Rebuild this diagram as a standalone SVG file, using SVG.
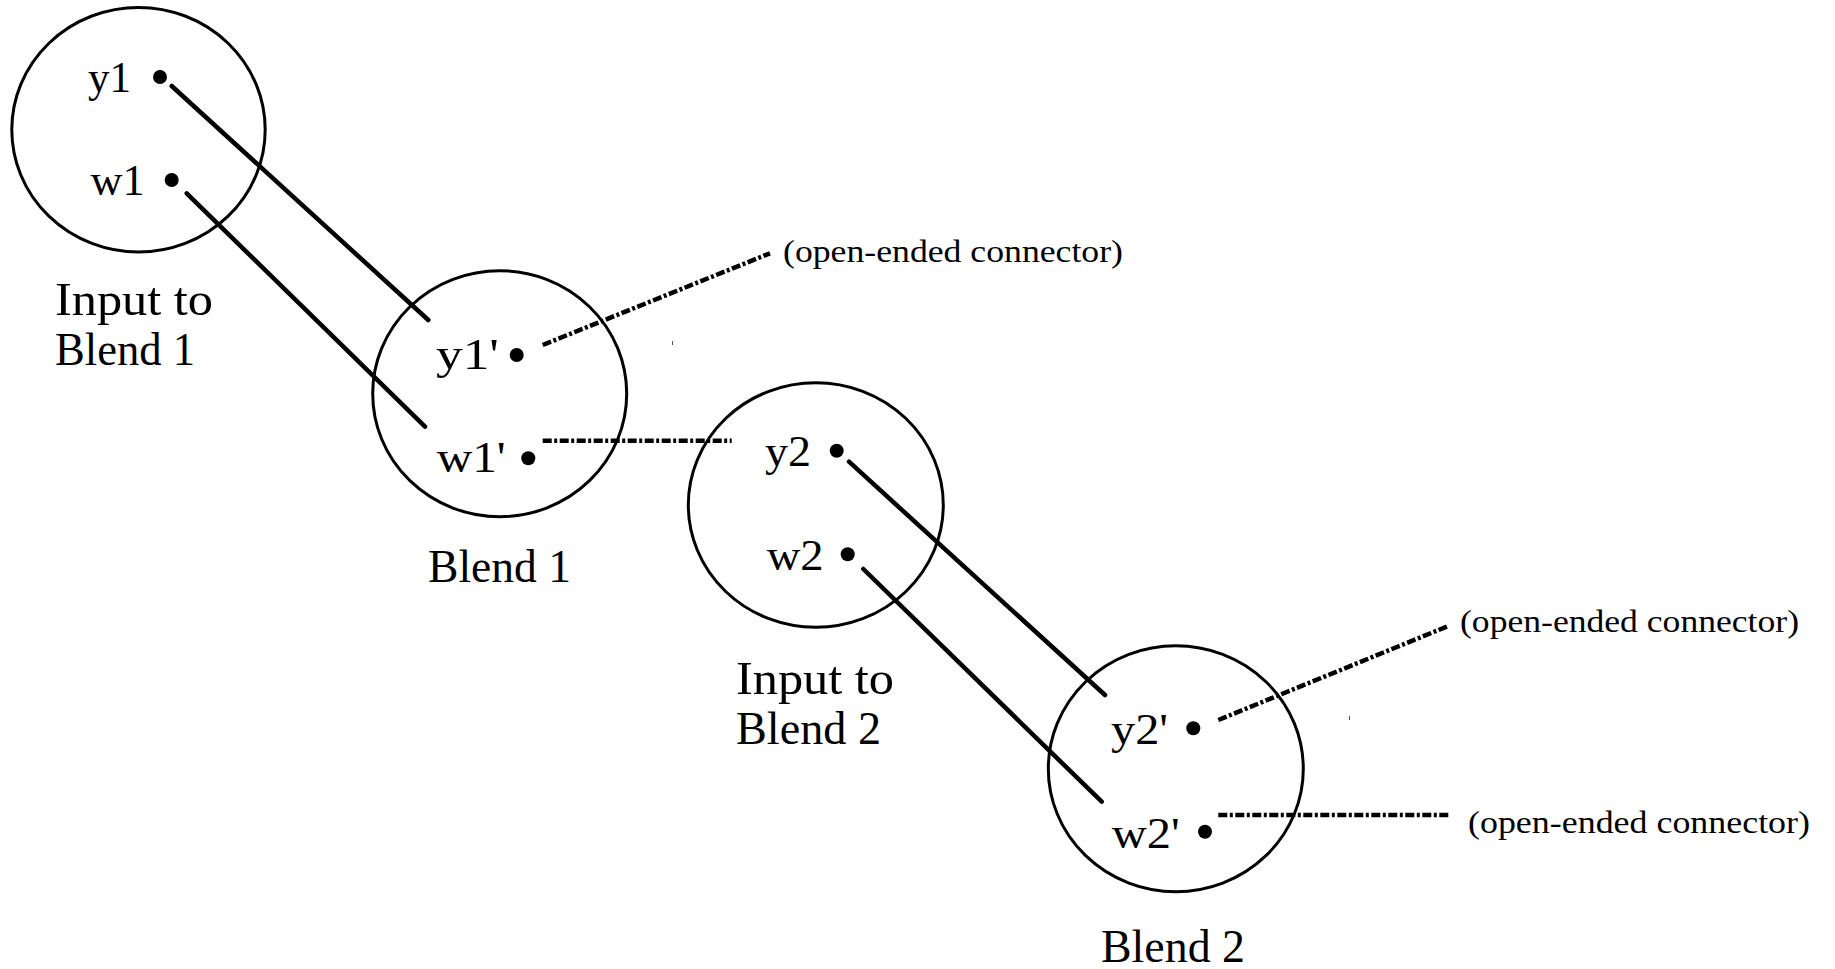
<svg xmlns="http://www.w3.org/2000/svg" width="1835" height="969" viewBox="0 0 1835 969">
<style>
.ring{fill:none;stroke:#000;stroke-width:3}
.dot{fill:#000}
.lbl{font-family:"Liberation Serif","Times New Roman",serif;font-size:44px;fill:#000}
.cap{font-family:"Liberation Serif","Times New Roman",serif;font-size:47px;fill:#000}
.note{font-family:"Liberation Serif","Times New Roman",serif;font-size:32px;fill:#000}
.link{stroke:#000;stroke-width:4.5;stroke-linecap:round;fill:none}
.open{stroke:#000;stroke-width:4.5;stroke-dasharray:9 2.5 3 2.5;fill:none}
.tick{stroke:#555;stroke-width:1}
</style>
<rect width="1835" height="969" fill="#fff"/>
<g id="input1">
  <ellipse class="ring" cx="138.5" cy="129.7" rx="126.7" ry="122.3"/>
  <circle class="dot" cx="160" cy="77" r="7"/>
  <circle class="dot" cx="171.7" cy="180" r="7"/>
  <text class="lbl" x="88" y="92" textLength="43" lengthAdjust="spacingAndGlyphs">y1</text>
  <text class="lbl" x="90.5" y="195" textLength="54" lengthAdjust="spacingAndGlyphs">w1</text>
  <text class="cap" x="55" y="315" textLength="158" lengthAdjust="spacingAndGlyphs">Input to</text>
  <text class="cap" x="55" y="365" textLength="140" lengthAdjust="spacingAndGlyphs">Blend 1</text>
</g>
<g id="blend1">
  <ellipse class="ring" cx="499.7" cy="393.7" rx="127" ry="123"/>
  <circle class="dot" cx="516.7" cy="355" r="7"/>
  <circle class="dot" cx="528.3" cy="458.3" r="7"/>
  <text class="lbl" x="436" y="369" textLength="63" lengthAdjust="spacingAndGlyphs">y1'</text>
  <text class="lbl" x="436.7" y="472" textLength="69" lengthAdjust="spacingAndGlyphs">w1'</text>
  <text class="cap" x="428" y="582" textLength="143" lengthAdjust="spacingAndGlyphs">Blend 1</text>
</g>
<g id="input2">
  <ellipse class="ring" cx="815.8" cy="505" rx="127.5" ry="122.3"/>
  <circle class="dot" cx="836.7" cy="450.7" r="7"/>
  <circle class="dot" cx="847.7" cy="554.3" r="7"/>
  <text class="lbl" x="765" y="466" textLength="46" lengthAdjust="spacingAndGlyphs">y2</text>
  <text class="lbl" x="766.7" y="570" textLength="57" lengthAdjust="spacingAndGlyphs">w2</text>
  <text class="cap" x="736" y="694" textLength="158" lengthAdjust="spacingAndGlyphs">Input to</text>
  <text class="cap" x="736" y="744" textLength="145" lengthAdjust="spacingAndGlyphs">Blend 2</text>
</g>
<g id="blend2">
  <ellipse class="ring" cx="1175.8" cy="768.7" rx="127.5" ry="123"/>
  <circle class="dot" cx="1193.3" cy="728.3" r="7"/>
  <circle class="dot" cx="1205" cy="831.7" r="7"/>
  <text class="lbl" x="1111" y="744" textLength="57" lengthAdjust="spacingAndGlyphs">y2'</text>
  <text class="lbl" x="1111.7" y="847.5" textLength="68" lengthAdjust="spacingAndGlyphs">w2'</text>
  <text class="cap" x="1101" y="962" textLength="144" lengthAdjust="spacingAndGlyphs">Blend 2</text>
</g>
<g id="notes">
  <text class="note" x="783" y="262" textLength="340" lengthAdjust="spacingAndGlyphs">(open-ended connector)</text>
  <text class="note" x="1460" y="632" textLength="339" lengthAdjust="spacingAndGlyphs">(open-ended connector)</text>
  <text class="note" x="1468" y="833" textLength="342" lengthAdjust="spacingAndGlyphs">(open-ended connector)</text>
</g>
<g id="connectors">
  <line class="link" x1="171.7" y1="86" x2="428.3" y2="320"/>
  <line class="link" x1="186.7" y1="193.3" x2="425" y2="426.7"/>
  <line class="link" x1="849" y1="461.7" x2="1105" y2="695"/>
  <line class="link" x1="863.3" y1="569" x2="1101.7" y2="801.7"/>
  <line class="open" x1="542.7" y1="345" x2="770" y2="253.3"/>
  <line class="open" x1="542.7" y1="440.7" x2="731.7" y2="440.7"/>
  <line class="open" x1="1218.3" y1="720" x2="1448.3" y2="626"/>
  <line class="open" x1="1218.3" y1="815" x2="1448.3" y2="815"/>
  <line class="tick" x1="672.5" y1="341" x2="672.5" y2="345"/>
  <line class="tick" x1="1349.5" y1="716" x2="1349.5" y2="720"/>
</g>
</svg>
